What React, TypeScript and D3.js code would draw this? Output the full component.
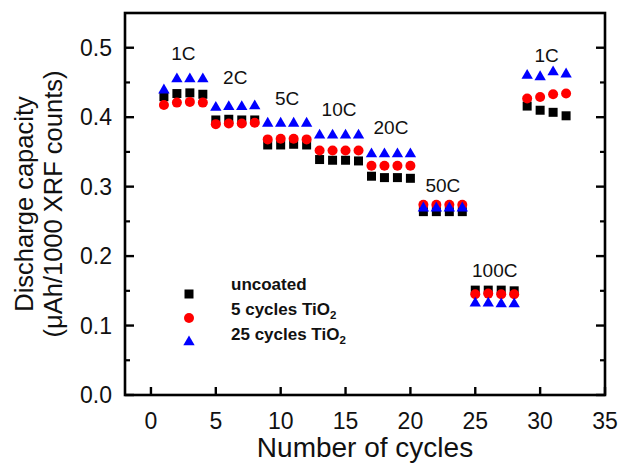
import React from 'react'
import * as d3 from 'd3'

// cycle number of every point (1..32), 4 cycles per C-rate
const cycles = d3.range(1, 33)
const rateNames = ['1C', '2C', '5C', '10C', '20C', '50C', '100C', '1C']
// where the rate label sits, in capacity units
const rateLabelLevel = [0.482, 0.448, 0.417, 0.401, 0.376, 0.2925, 0.17, 0.48]

const uncoated = [
  0.4295, 0.434, 0.435, 0.433,
  0.396, 0.397, 0.396, 0.396,
  0.36, 0.36, 0.361, 0.36,
  0.339, 0.338, 0.338, 0.337,
  0.315, 0.313, 0.313, 0.312,
  0.264, 0.264, 0.264, 0.264,
  0.151, 0.151, 0.151, 0.15,
  0.416, 0.41, 0.407, 0.402,
]
const tio5 = [
  0.4175, 0.421, 0.422, 0.421,
  0.39, 0.391, 0.391, 0.392,
  0.368, 0.369, 0.369, 0.368,
  0.352, 0.352, 0.352, 0.352,
  0.33, 0.33, 0.33, 0.33,
  0.274, 0.274, 0.274, 0.274,
  0.145, 0.146, 0.145, 0.145,
  0.427, 0.429, 0.433, 0.434,
]
const tio25 = [
  0.439, 0.455, 0.455, 0.455,
  0.414, 0.415, 0.415, 0.416,
  0.391, 0.391, 0.391, 0.391,
  0.374, 0.374, 0.374, 0.374,
  0.347, 0.347, 0.347, 0.347,
  0.269, 0.269, 0.269, 0.269,
  0.132, 0.132, 0.131, 0.131,
  0.46, 0.458, 0.465, 0.462,
]
const xTicks = [0, 5, 10, 15, 20, 25, 30, 35]
const yTicks = [0, 0.1, 0.2, 0.3, 0.4, 0.5]
const yMinor = [0.05, 0.15, 0.25, 0.35, 0.45]

const W = 619, H = 465
const left = 125, right = 605, top = 13, bottom = 395
const font = '"Liberation Sans", Arial, sans-serif'

const x = d3.scaleLinear().domain([-2, 35]).range([left, right])
const y = d3.scaleLinear().domain([0, 0.55]).range([bottom, top])

const square = d3.symbol(d3.symbolSquare, 81)()
const triangle = d3.symbol(d3.symbolTriangle, 56)()

const series = [
  { name: 'uncoated', values: uncoated, color: '#000000', shape: 'square' },
  { name: '5 cycles TiO', values: tio5, color: '#ff0000', shape: 'circle' },
  { name: '25 cycles TiO', values: tio25, color: '#0000ff', shape: 'triangle' },
]

const Marker = ({ shape, color, cx, cy }: any) => {
  if (shape === 'circle') return <circle cx={cx} cy={cy} r={5} fill={color} />
  const d = shape === 'square' ? square : triangle
  return <path d={d as string} transform={`translate(${cx},${cy})`} fill={color} />
}

export default function App() {
  const groups = rateNames.map((name, i) => {
    const cs = cycles.slice(i * 4, i * 4 + 4)
    return { name, cx: d3.mean(cs) as number, level: rateLabelLevel[i] }
  })
  return (
    <svg width={W} height={H} style={{ position: 'fixed', left: 0, top: 0, background: '#fff' }}
      fontFamily={font}>
      {/* data */}
      {series.map(s => (
        <g key={s.name}>
          {cycles.map((c, i) => (
            <Marker key={c} shape={s.shape} color={s.color} cx={x(c)} cy={y(s.values[i])} />
          ))}
        </g>
      ))}

      {/* rate labels */}
      {groups.map((g, i) => (
        <text key={i} x={x(g.cx)} y={y(g.level)} textAnchor="middle" fontSize={19} fill="#111">{g.name}</text>
      ))}

      {/* legend */}
      {series.map((s, i) => (
        <g key={s.name}>
          <Marker shape={s.shape} color={s.color} cx={189} cy={294 + i * 24} />
          <text x={231} y={290 + i * 25} fontSize={17} fontWeight="bold" fill="#111">
            {s.name}
            {i > 0 && <tspan fontSize={11.5} dy={4}>2</tspan>}
          </text>
        </g>
      ))}

      {/* frame and ticks */}
      <rect x={left} y={top} width={right - left} height={bottom - top} fill="none" stroke="#000" strokeWidth={2.6} />
      {yTicks.map(t => (
        <g key={t}>
          <line x1={left} x2={left + 9} y1={y(t)} y2={y(t)} stroke="#000" strokeWidth={2.4} />
          <line x1={right} x2={right - 9} y1={y(t)} y2={y(t)} stroke="#000" strokeWidth={2.4} />
          <text x={left - 13} y={y(t)} dy="0.36em" textAnchor="end" fontSize={23} fill="#111">{d3.format('.1f')(t)}</text>
        </g>
      ))}
      {yMinor.map(t => (
        <g key={t}>
          <line x1={left} x2={left + 5} y1={y(t)} y2={y(t)} stroke="#000" strokeWidth={2.2} />
          <line x1={right} x2={right - 5} y1={y(t)} y2={y(t)} stroke="#000" strokeWidth={2.2} />
        </g>
      ))}
      {xTicks.map(t => (
        <g key={t}>
          <line x1={x(t)} x2={x(t)} y1={bottom} y2={bottom - 8} stroke="#000" strokeWidth={2.4} />
          <text x={x(t)} y={bottom + 34} textAnchor="middle" fontSize={23} fill="#111">{t}</text>
        </g>
      ))}

      {/* axis titles */}
      <text x={(left + right) / 2} y={457} textAnchor="middle" fontSize={28} fill="#111">Number of cycles</text>
      <g transform={`translate(0,${(top + bottom) / 2}) rotate(-90)`}>
        <text x={0} y={33} textAnchor="middle" fontSize={25.5} fill="#111">Discharge capacity</text>
        <text x={0} y={62} textAnchor="middle" fontSize={25.5} fill="#111">(μAh/1000 XRF counts)</text>
      </g>
    </svg>
  )
}
